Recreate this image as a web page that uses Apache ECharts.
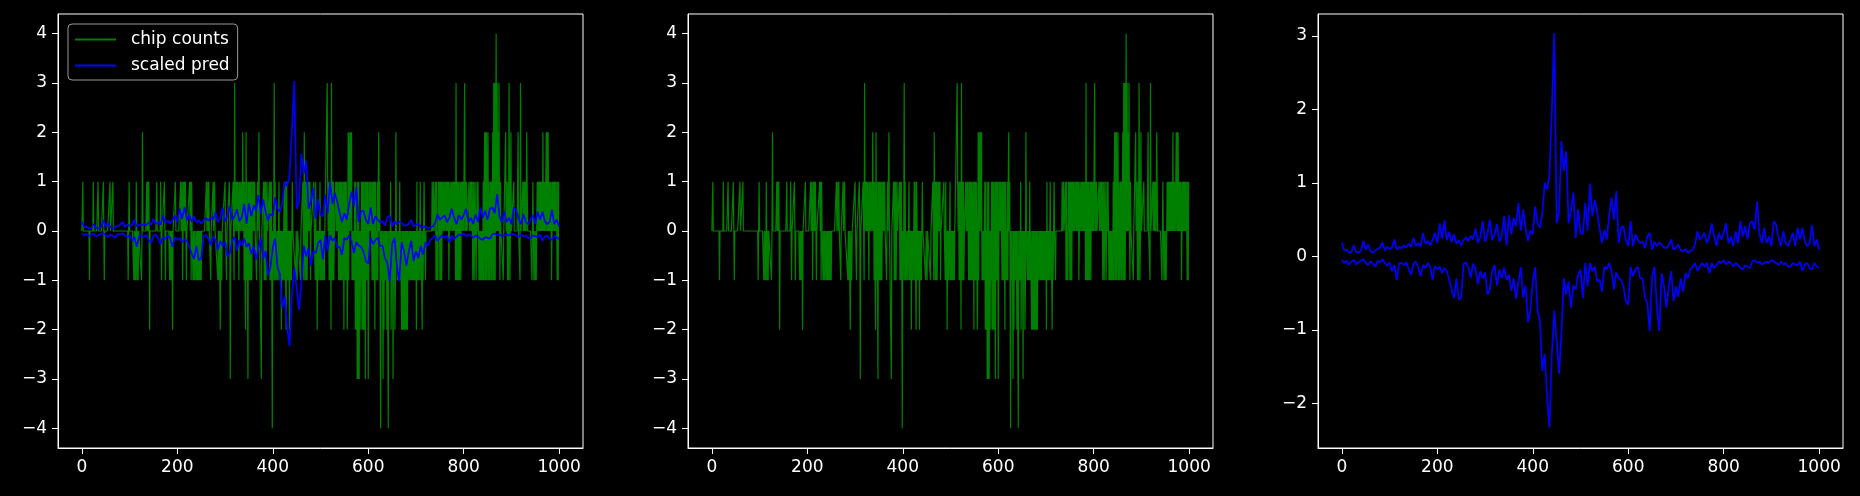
<!DOCTYPE html>
<html>
<head>
<meta charset="utf-8">
<script src="https://cdn.jsdelivr.net/npm/echarts@6/dist/echarts.min.js"></script>
<style>
  html, body { margin: 0; padding: 0; background: #000; }
  #chart { width: 1860px; height: 496px; }
</style>
</head>
<body>
<div id="chart"></div>
<script>
// chip counts: [position, count], every other position is 0
var chipSpikes = [
  [2,1],[16,-1],[24,1],[34,1],[45,1],[47,-1],[59,1],[65,1],[97,-1],[99,1],[109,-1],[111,-1],[113,-1],[114,1],
  [116,-1],[118,-1],[125,-1],[127,2],[136,1],[138,1],[140,1],[142,-2],[157,1],[165,1],[167,-1],[173,1],[175,-1],
  [184,-1],[186,-1],[188,-1],[190,-2],[196,1],[207,1],[210,1],[211,-1],[213,1],[215,1],[217,1],[219,-1],[226,1],
  [228,1],[229,-1],[230,1],[233,-1],[235,-1],[237,-1],[238,-1],[240,-1],[242,-1],[244,-1],[246,-1],[248,-1],[250,-1],
  [261,1],[264,1],[266,1],[270,-1],[275,1],[278,1],[285,-1],[287,-1],[290,-2],[293,-1],[300,1],[303,-1],[309,1],[311,-3],
  [317,1],[319,-1],[320,3],[323,1],[325,1],[327,1],[329,-1],[330,1],[332,1],[335,1],[337,2],[339,1],[340,-1],[341,1],
  [342,-1],[343,-2],[344,2],[345,-1],[346,1],[347,-1],[348,-3],[349,1],[350,-1],[351,1],[352,-1],[353,1],[354,-1],
  [355,1],[356,-1],[358,1],[360,1],[362,1],
  [366,-1],[368,1],[371,2],[376,-3],[381,1],[382,-1],[383,1],[384,-1],[385,1],[386,-1],[388,1],[393,1],[394,-1],
  [395,1],[396,-1],[397,1],[398,-1],[399,-4],[401,-1],[403,3],[404,-1],[405,1],[406,-1],
  [409,-1],[411,-1],[413,1],[414,-1],[416,-1],[418,-2],[420,-1],[422,-1],[424,1],[425,-1],[426,1],[427,-1],[428,-2],
  [429,1],[431,-1],[433,-1],[435,-2],[437,-1],[439,-1],[441,1],
  [448,-1],[451,-1],[458,-1],[463,1],[465,-1],[466,2],[468,-1],[469,1],[470,-1],[471,1],[472,-1],[474,1],[476,1],
  [478,1],[479,-1],[486,1],[489,-1],[490,1],[491,-1],[493,-2],[495,-1],[497,-1],[499,1],[500,-1],
  [502,-1],[504,-1],[506,-1],[508,-1],[514,3],[515,1],[517,1],[518,-1],[519,1],[520,-1],[521,1],[522,-2],[523,3],
  [524,-1],[525,1],[526,-1],[527,1],[528,-1],[532,1],[534,1],[536,1],[538,-1],[539,1],[540,-1],[541,1],[542,-1],
  [543,1],[544,-1],[545,1],[546,-1],[547,-1],[548,1],[549,-2],[550,1],[551,-1],[552,1],[553,-1],[554,1],[556,-2],
  [557,-1],[558,2],[559,-1],[560,2],
  [563,2],[565,2],[566,-1],[568,-1],[570,-1],[571,-1],[572,1],[573,-2],[574,1],[575,-2],[577,-3],[578,1],[579,-3],
  [580,1],[581,-3],[583,-2],[585,-1],[586,1],[587,-2],[588,1],[589,-2],[590,1],[591,-2],[592,-1],[593,1],[594,-3],
  [595,1],[596,-1],[597,1],[598,-1],[599,1],[600,-3],[601,-1],[602,1],[604,1],[606,1],[608,-1],[609,1],[610,-1],
  [611,1],[612,-1],[613,1],[614,-2],[615,1],[616,-1],[618,-1],[619,1],[620,-1],
  [621,1],[622,2],[624,1],[625,1],[626,-4],[628,-1],[630,-1],[631,-3],[633,-2],[635,-1],[637,-1],[639,-2],[642,-4],
  [644,-1],[646,-1],[647,1],[648,-2],[650,-1],[652,-3],[654,-1],[656,-2],[657,-1],[658,2],[661,-1],[663,-1],[665,-1],
  [666,1],[667,-1],[669,-1],[670,-2],[672,-2],[674,-2],[676,-2],[678,-2],[680,-2],[682,-2],[684,-1],[685,-1],[687,-1],
  [689,-1],[691,-1],[693,-1],[695,-1],[697,-1],[699,-1],[701,-2],[702,1],[703,-1],[705,-1],[707,-1],[709,1],[710,-1],
  [712,-1],[713,-2],[715,-1],[717,1],[720,-1],
  [734,1],[737,1],[741,1],[742,-1],[743,1],[744,-1],[746,-1],[747,1],[749,1],[750,-1],[751,1],[752,-1],[753,1],
  [754,-1],[755,1],[757,1],[759,1],[762,1],[764,1],[766,1],[768,1],[769,-1],[771,1],[774,1],[776,1],[778,1],[780,1],
  [782,1],[783,-1],[784,3],[785,-1],[786,1],[787,-1],[788,1],[789,-1],[790,1],[791,-1],[793,1],[794,-1],[795,1],
  [797,1],[799,1],[802,3],[804,1],[806,1],
  [811,1],[814,1],[816,1],[818,1],[819,-1],[821,1],[822,-1],[824,1],[826,-1],[828,1],[830,1],[832,-1],[834,-1],
  [836,-1],[838,-1],[840,-1],[841,1],[842,-1],[843,1],[844,2],[845,-1],[846,2],[847,-1],[848,2],[849,-1],[850,-1],
  [851,2],[852,-1],[853,1],[854,-1],[855,-1],[856,1],[857,-1],[858,1],[859,-1],[860,-1],[861,2],[862,-1],[863,3],
  [864,-1],[865,3],[866,-1],[867,-1],[868,4],[870,3],[872,2],[874,3],[876,-1],[877,1],[883,-1],[888,2],[890,1],
  [892,-1],[893,1],[894,-1],[895,3],[896,1],[897,-1],[899,2],
  [905,1],[914,2],[918,-1],[919,3],[924,1],[926,1],[928,1],[930,1],[932,2],[933,1],[943,-1],[945,1],[947,-1],
  [950,-1],[952,-1],[954,1],[956,1],[958,1],[960,1],[962,1],[964,1],[966,2],[968,1],[970,1],[972,1],[973,2],
  [975,2],[977,2],[979,1],[981,1],[983,1],[984,-1],[986,1],[988,1],[990,1],[992,1],[994,1],[996,-1],[997,1],
  [998,-1],[999,1]
];
var chipLength = 1000;

// scaled prediction, read every 5 positions (0 .. 1000)
var predStep = 5;
var predUp = [
  0.19,0.08,0.09,0.05,0.06,0.15,0.06,0.05,0.08,0.21,   // 0
  0.09,0.16,0.07,0.05,0.08,0.10,0.12,0.19,0.08,0.13,   // 50
  0.10,0.12,0.23,0.09,0.13,0.11,0.15,0.12,0.17,0.13,   // 100
  0.25,0.14,0.18,0.13,0.32,0.17,0.21,0.15,0.22,0.32,   // 150
  0.18,0.45,0.24,0.49,0.22,0.33,0.19,0.30,0.17,0.22,   // 200
  0.15,0.22,0.26,0.21,0.28,0.23,0.38,0.18,0.26,0.48,   // 250
  0.20,0.30,0.50,0.22,0.30,0.44,0.20,0.28,0.55,0.15,   // 300
  0.56,0.30,0.52,0.41,0.73,0.35,0.64,0.39,0.21,0.35,   // 350
  0.30,0.68,0.45,0.39,0.57,1.00,0.91,1.11,2.00,3.04,   // 400
  0.45,0.60,1.57,1.16,1.43,0.45,0.62,0.87,0.25,0.64,   // 450
  0.32,0.30,0.73,0.35,0.99,0.55,0.77,0.60,0.38,0.18,   // 500
  0.36,0.23,0.55,0.80,0.50,0.89,0.18,0.39,0.41,0.23,   // 550
  0.14,0.48,0.14,0.30,0.23,0.18,0.20,0.11,0.27,0.32,   // 600
  0.09,0.20,0.14,0.19,0.16,0.12,0.11,0.15,0.23,0.09,   // 650
  0.12,0.16,0.08,0.07,0.10,0.05,0.07,0.09,0.16,0.34,   // 700
  0.23,0.27,0.32,0.18,0.27,0.45,0.27,0.14,0.32,0.23,   // 750
  0.32,0.45,0.18,0.27,0.14,0.34,0.18,0.48,0.27,0.41,   // 800
  0.23,0.45,0.48,0.36,0.75,0.30,0.18,0.39,0.18,0.27,   // 850
  0.14,0.48,0.43,0.25,0.14,0.34,0.18,0.14,0.23,0.32,   // 900
  0.14,0.39,0.23,0.39,0.20,0.14,0.18,0.43,0.14,0.23,   // 950
  0.09                                                 // 1000
];
var predDown = [
  -0.05,-0.09,-0.06,-0.11,-0.07,-0.05,-0.11,-0.08,-0.06,-0.04,   // 0
  -0.09,-0.12,-0.07,-0.10,-0.14,-0.06,-0.08,-0.04,-0.09,-0.13,   // 50
  -0.08,-0.20,-0.12,-0.32,-0.10,-0.09,-0.12,-0.08,-0.18,-0.25,   // 100
  -0.10,-0.07,-0.15,-0.27,-0.12,-0.16,-0.09,-0.14,-0.32,-0.13,   // 150
  -0.18,-0.14,-0.23,-0.16,-0.20,-0.32,-0.45,-0.57,-0.30,-0.59,   // 200
  -0.56,-0.10,-0.08,-0.15,-0.29,-0.10,-0.18,-0.38,-0.20,-0.30,   // 250
  -0.22,-0.52,-0.45,-0.20,-0.12,-0.40,-0.18,-0.30,-0.15,-0.32,   // 300
  -0.25,-0.47,-0.30,-0.58,-0.35,-0.15,-0.56,-0.40,-0.90,-0.74,   // 350
  -0.34,-0.15,-0.74,-0.88,-1.56,-1.33,-1.92,-2.33,-1.33,-0.74,   // 400
  -1.15,-1.60,-1.06,-0.30,-0.52,-0.34,-0.70,-0.40,-0.45,-0.25,   // 450
  -0.18,-0.57,-0.09,-0.41,-0.09,-0.20,-0.14,-0.34,-0.32,-0.48,   // 500
  -0.14,-0.18,-0.09,-0.20,-0.45,-0.22,-0.30,-0.32,-0.41,-0.61,   // 550
  -0.66,-0.14,-0.27,-0.18,-0.14,-0.30,-0.30,-0.55,-0.64,-1.02,   // 600
  -0.27,-0.14,-0.70,-1.02,-0.23,-0.41,-0.70,-0.41,-0.20,-0.61,   // 650
  -0.41,-0.55,-0.30,-0.48,-0.23,-0.30,-0.18,-0.14,-0.09,-0.20,   // 700
  -0.14,-0.09,-0.14,-0.09,-0.23,-0.09,-0.16,-0.12,-0.07,-0.09,   // 750
  -0.05,-0.11,-0.07,-0.09,-0.14,-0.09,-0.12,-0.16,-0.18,-0.12,   // 800
  -0.14,-0.16,-0.07,-0.05,-0.09,-0.07,-0.11,-0.09,-0.07,-0.09,   // 850
  -0.05,-0.07,-0.09,-0.12,-0.07,-0.11,-0.09,-0.14,-0.14,-0.09,   // 900
  -0.11,-0.12,-0.07,-0.20,-0.11,-0.09,-0.16,-0.18,-0.09,-0.14,   // 950
  -0.16                                                          // 1000
];

var xTicks = [0, 200, 400, 600, 800, 1000];
var countTicks = [-4, -3, -2, -1, 0, 1, 2, 3, 4];
var predTicks = [-2, -1, 0, 1, 2, 3];

// build line data
var spikeMap = {};
chipSpikes.forEach(function (s) { spikeMap[s[0]] = s[1]; });
var chipData = [];
for (var i = 0; i < chipLength; i++) {
  chipData.push([i, spikeMap[i] || 0]);
}
var upData = predUp.map(function (v, k) { return [k * predStep, v]; });
var downData = predDown.map(function (v, k) { return [k * predStep, v]; });

var FONT = 'DejaVu Sans';
var WHITE = '#ffffff';
var GREEN = '#008000';
var BLUE = '#0000ff';

function minus(v) { return String(v).replace('-', '\u2212'); }

function makeX(idx) {
  return {
    type: 'value', gridIndex: idx, min: -50, max: 1050,
    splitLine: { show: false },
    axisLine: { show: true, onZero: false, lineStyle: { color: WHITE, width: 1 } },
    axisTick: { show: true, customValues: xTicks, length: 6, inside: false, lineStyle: { color: WHITE, width: 1 } },
    axisLabel: { customValues: xTicks, color: WHITE, fontSize: 17, fontFamily: FONT, margin: 11,
                 formatter: function (v) { return String(v); } }
  };
}
function makeY(idx, lo, hi, ticks) {
  return {
    type: 'value', gridIndex: idx, min: lo, max: hi,
    splitLine: { show: false },
    axisLine: { show: true, onZero: false, lineStyle: { color: WHITE, width: 1 } },
    axisTick: { show: true, customValues: ticks, length: 6, inside: false, lineStyle: { color: WHITE, width: 1 } },
    axisLabel: { customValues: ticks, color: WHITE, fontSize: 17, fontFamily: FONT, margin: 11,
                 formatter: function (v) { return minus(v); } }
  };
}
function line(name, data, color, width, xi) {
  return {
    name: name, type: 'line', data: data, xAxisIndex: xi, yAxisIndex: xi,
    showSymbol: false, symbol: 'none', sampling: null,
    lineStyle: { color: color, width: width }, itemStyle: { color: color },
    emphasis: { disabled: true }
  };
}

var gridBox = { top: 14, height: 434, width: 525, show: true, borderColor: WHITE, borderWidth: 1, backgroundColor: '#000' };

var option = {
  backgroundColor: '#000',
  animation: false,
  textStyle: { fontFamily: FONT },
  grid: [
    Object.assign({ left: 58 }, gridBox),
    Object.assign({ left: 688 }, gridBox),
    Object.assign({ left: 1318 }, gridBox)
  ],
  xAxis: [makeX(0), makeX(1), makeX(2)],
  yAxis: [
    makeY(0, -4.4, 4.4, countTicks),
    makeY(1, -4.4, 4.4, countTicks),
    makeY(2, -2.61, 3.30, predTicks)
  ],
  legend: {
    left: 68, top: 24, orient: 'vertical',
    data: [
      { name: 'chip counts', icon: 'rect', itemStyle: { color: GREEN } },
      { name: 'scaled pred', icon: 'rect', itemStyle: { color: BLUE } }
    ],
    itemWidth: 41, itemHeight: 2, itemGap: 9,
    padding: [7, 8, 6, 7],
    backgroundColor: 'rgba(0,0,0,0.8)',
    borderColor: '#999999', borderWidth: 1, borderRadius: 4,
    textStyle: { color: WHITE, fontSize: 17, fontFamily: FONT, padding: [0, 0, 0, 10] },
    selectedMode: false
  },
  series: [
    line('chip counts', chipData, GREEN, 1.2, 0),
    line('scaled pred', upData, BLUE, 1.7, 0),
    line('scaled pred', downData, BLUE, 1.7, 0),
    line('chip counts', chipData, GREEN, 1.2, 1),
    line('scaled pred', upData, BLUE, 1.7, 2),
    line('scaled pred', downData, BLUE, 1.7, 2)
  ]
};

var myChart = echarts.init(document.getElementById('chart'));
myChart.setOption(option);
</script>
</body>
</html>
